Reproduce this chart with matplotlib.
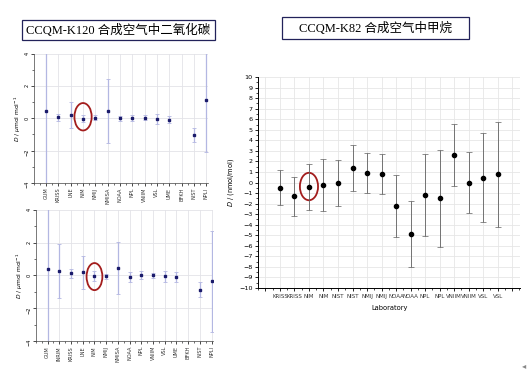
import numpy as np
import matplotlib.pyplot as plt
from matplotlib.patches import Ellipse, Rectangle
from matplotlib.ticker import MultipleLocator

# CCQM-K120, first comparison (top left)
top_labs = ['GUM', 'KRISS', 'LNE', 'NIM', 'NMIJ', 'NMISA', 'NOAA', 'NPL', 'VNIIM',
            'VSL', 'UME', 'BFKH', 'NIST', 'NPLI']
top_d = [0.46, 0.06, 0.23, -0.02, 0.04, 0.46, 0.0, 0.02, 0.03, -0.04, -0.08, np.nan, -1.04, 1.15]
top_u = [5.0, 0.2, 0.81, 0.2, 0.17, 2.0, 0.17, 0.2, 0.15, 0.32, 0.2, np.nan, 0.42, 3.25]

# CCQM-K120, second comparison (bottom left)
bot_labs = ['GUM', 'INRIM', 'KRISS', 'LNE', 'NIM', 'NMIJ', 'NMISA', 'NOAA', 'NPL', 'VNIIM',
            'VSL', 'UME', 'BFKH', 'NIST', 'NPLI']
bot_d = [0.39, 0.27, 0.12, 0.18, -0.04, -0.06, 0.45, -0.12, 0.02, 0.02, -0.06, -0.12, np.nan, -0.88, -0.35]
bot_u = [5.0, 1.65, 0.25, 1.02, 0.3, 0.15, 1.6, 0.3, 0.25, 0.15, 0.35, 0.3, np.nan, 0.46, 3.07]

# CCQM-K82 (right)
k82_labs = ['KRISS', 'KRISS', 'NIM', 'NIM', 'NIST', 'NIST', 'NMIJ', 'NMIJ', 'NOAA', 'NOAA',
            'NPL', 'NPL', 'VNIIM', 'VNIIM', 'VSL', 'VSL']
k82_d = [-0.5, -1.31, -0.41, -0.22, -0.06, 1.37, 0.88, 0.8, -2.2, -4.9, -1.18, -1.49, 2.6, 0.0, 0.47, 0.76]
k82_u = [1.65, 1.85, 2.15, 2.44, 2.18, 2.17, 1.9, 1.92, 2.95, 3.13, 3.88, 4.6, 2.93, 2.91, 4.22, 4.98]

title_font = ['Liberation Serif', 'Noto Sans CJK SC']
navy = '#1b1b6b'
lav = '#b3b7e2'
ring = '#a31d1d'

W, H = 528, 374
fig = plt.figure(figsize=(W / 100, H / 100), dpi=100)


def k120_panel(ax, labs, d, u, xmax):
    x = np.arange(len(labs))
    ax.errorbar(x, d, yerr=u, fmt='s', ms=1.9, color=navy, ecolor=lav,
                elinewidth=0.9, capsize=1.2, capthick=0.6)
    ax.set_xlim(-1, xmax)
    ax.set_ylim(-4, 4)
    ax.set_xticks(x)
    ax.set_xticklabels(labs, rotation=90, fontsize=3.6, color='#333333')
    ax.xaxis.set_minor_locator(MultipleLocator(0.5))
    ax.yaxis.set_major_locator(MultipleLocator(2))
    ax.yaxis.set_minor_locator(MultipleLocator(1))
    ax.tick_params(axis='y', labelsize=3.6, labelrotation=90, length=2, width=0.5, pad=1)
    ax.tick_params(axis='x', length=2, width=0.5, pad=1.5)
    ax.tick_params(which='minor', length=1.2, width=0.4)
    ax.grid(True, which='major', color='#e3e3e8', lw=0.6)
    ax.set_axisbelow(True)
    for s in ['top', 'right']:
        ax.spines[s].set_visible(False)
    for s in ['left', 'bottom']:
        ax.spines[s].set_linewidth(0.5)
        ax.spines[s].set_color('#444444')
    ax.set_ylabel(r'$D$ / $\mu$mol mol$^{-1}$', fontsize=4.3, labelpad=1)
    i = labs.index('NIM')
    return x[i], d[i]


ax1 = fig.add_axes([0.064, 0.511, 0.330, 0.345])
cx, cy = k120_panel(ax1, top_labs, top_d, top_u, 13.15)
ax1.add_patch(Ellipse((cx, cy + 0.12), 1.4, 1.7, fill=False, ec=ring, lw=1.3))

ax2 = fig.add_axes([0.068, 0.088, 0.335, 0.351])
cx, cy = k120_panel(ax2, bot_labs, bot_d, bot_u, 14.1)
ax2.add_patch(Ellipse((cx, cy - 0.03), 1.35, 1.65, fill=False, ec=ring, lw=1.3))

ax3 = fig.add_axes([0.489, 0.230, 0.496, 0.564])
x3 = np.arange(1, len(k82_labs) + 1)
ax3.errorbar(x3, k82_d, yerr=k82_u, fmt='o', ms=3, color='black', ecolor='#606060',
             elinewidth=0.6, capsize=2, capthick=0.5)
ax3.set_xlim(-0.5, 17.55)
ax3.set_ylim(-10, 10)
ax3.set_xticks(np.arange(0, 18))
ax3.set_xticklabels([''] + k82_labs + [''], fontsize=4.0, color='#333333')
ax3.xaxis.set_minor_locator(MultipleLocator(0.5))
ax3.yaxis.set_major_locator(MultipleLocator(1))
ax3.yaxis.set_minor_locator(MultipleLocator(0.5))
ax3.tick_params(labelsize=4.6, length=2.5, width=0.6, pad=1.5)
ax3.tick_params(axis='x', labelsize=4.0)
ax3.tick_params(which='minor', length=1.3, width=0.5)
ax3.grid(True, which='major', color='#e6e6e6', lw=0.6)
ax3.set_axisbelow(True)
for s in ['top', 'right']:
    ax3.spines[s].set_visible(False)
for s in ['left', 'bottom']:
    ax3.spines[s].set_linewidth(0.7)
ax3.set_xlabel('Laboratory', fontsize=4.8, labelpad=5)
ax3.set_ylabel(r'$D$ / (nmol/mol)', fontsize=4.8, labelpad=2)
i = k82_labs.index('NIM')
ax3.add_patch(Ellipse((x3[i], k82_d[i] + 0.03), 1.25, 2.6, fill=False, ec=ring, lw=1.3))

# slide titles with framed boxes
for (x0, y0, x1, y1), txt in [((22, 20, 215, 40), 'CCQM-K120 合成空气中二氧化碳'),
                              ((282, 17, 469, 39), 'CCQM-K82 合成空气中甲烷')]:
    fig.add_artist(Rectangle((x0 / W, 1 - y1 / H), (x1 - x0) / W, (y1 - y0) / H,
                             transform=fig.transFigure, fill=False, ec='#22225a', lw=0.9))
    fig.text((x0 + x1) / 2 / W, 1 - (y0 + y1) / 2 / H, txt, ha='center', va='center',
             fontsize=9, family=title_font)
fig.text(0.997, 0.022, '◂', ha='right', va='center', fontsize=6, color='#888888')

fig.savefig('out.png', dpi=100)
